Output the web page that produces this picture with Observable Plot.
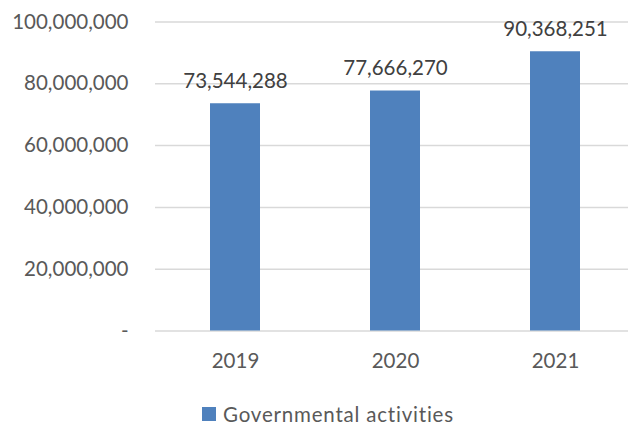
<!DOCTYPE html>
<html>
<head>
<meta charset="utf-8">
<script src="https://cdn.jsdelivr.net/npm/d3@7"></script>
<script src="https://cdn.jsdelivr.net/npm/@observablehq/plot@0.6"></script>
<style>
  html, body { margin: 0; padding: 0; background: #fff; }
  #chart { width: 628px; font-family: Lato, "Open Sans", sans-serif; color: #595959; }
  #legend { display: flex; justify-content: flex-start; align-items: center; height: 30px; margin-top: 4px; padding-left: 202px; font-size: 20.5px; color: #595959; }
  #legend .sw { width: 14px; height: 14px; background: #4F81BD; margin-right: 7px; flex: none; }
  #legend .lb { letter-spacing: 0.8px; white-space: nowrap; }
</style>
</head>
<body>
<div id="chart"></div>
<script>
const years = ["2019", "2020", "2021"];
const values = [73544288, 77666270, 90368251];
const yTicks = [0, 20000000, 40000000, 60000000, 80000000, 100000000];
const seriesName = "Governmental activities";
const barColor = "#4F81BD";

const data = years.map((y, i) => ({year: y, value: values[i]}));
const fmt = d3.format(",");

const plot = Plot.plot({
  width: 628,
  height: 395,
  marginTop: 21.5,
  marginBottom: 64.5,
  marginLeft: 155,
  marginRight: 0,
  style: {fontFamily: "Lato, 'Open Sans', sans-serif", fontSize: "20.5px", color: "#595959", background: "#fff"},
  x: {domain: years, range: [155, 635], paddingInner: 0.6875, paddingOuter: 0.34375, label: null},
  y: {domain: [0, 100000000], label: null},
  marks: [
    Plot.ruleY(yTicks, {stroke: "#d9d9d9", strokeWidth: 1.5}),
    Plot.barY(data, {x: "year", y: "value", fill: barColor}),
    Plot.text(data, {x: "year", y: "value", text: d => fmt(d.value), lineAnchor: "bottom", dy: -16, fill: "#404040", fontSize: 20.5}),
    Plot.axisY({ticks: yTicks, tickSize: 0, tickPadding: 27, tickFormat: d => d === 0 ? "-" : fmt(d), fill: "#595959"}),
    Plot.axisX({tickSize: 0, tickPadding: 22, fill: "#595959"})
  ]
});
document.getElementById("chart").appendChild(plot);
const legend = document.createElement("div");
legend.id = "legend";
legend.innerHTML = `<span class="sw"></span><span class="lb">${seriesName}</span>`;
document.getElementById("chart").appendChild(legend);
</script>
</body>
</html>
